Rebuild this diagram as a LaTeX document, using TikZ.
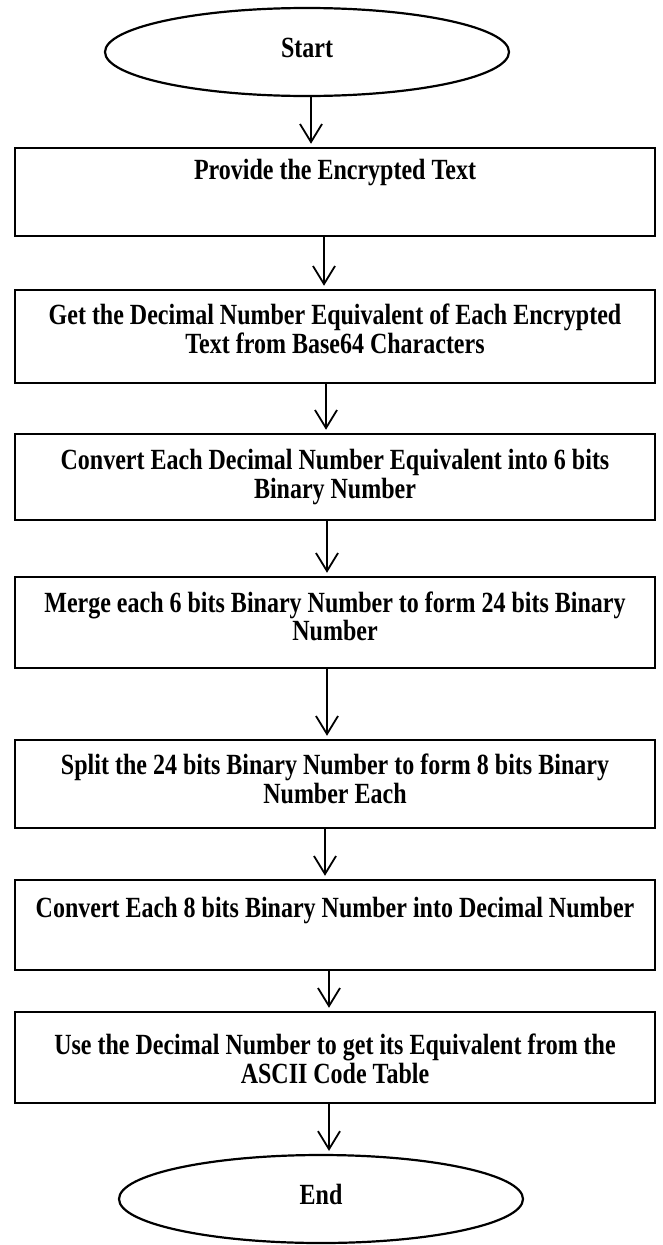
\documentclass[tikz,border=0pt]{standalone}
\usepackage{fontspec}
\setmainfont{Liberation Serif}
\usetikzlibrary{arrows.meta,shapes.geometric}
\newcommand{\vtxt}[1]{\scalebox{1}[1.22]{\begin{tabular}{@{}c@{}}#1\end{tabular}}}
\begin{document}
\begin{tikzpicture}[x=1pt,y=-1pt,
  every node/.style={font=\fontsize{24}{23}\selectfont\bfseries},
  stepbox/.style={draw, line width=2.5pt, inner sep=0pt, minimum width=640pt},
  term/.style={draw, ellipse, line width=2.2pt, inner sep=0pt, minimum width=404pt, minimum height=88pt},
  lbl/.style={inner sep=0pt},
  arr/.style={line width=1.8pt, -{Straight Barb[length=18pt,width=22pt,line width=1.8pt]}, shorten >=3pt}]
\useasboundingbox (0,0) rectangle (663,1245);
% terminals
\node[term] (s) at (307,52) {\vtxt{Start}};
\node[term] (e) at (321,1199) {\vtxt{End}};
% boxes
\node[stepbox, minimum height=88pt] (b1) at (335,192) {};
\node[stepbox, minimum height=93pt] (b2) at (335,336.5) {};
\node[stepbox, minimum height=86pt] (b3) at (335,477) {};
\node[stepbox, minimum height=91pt] (b4) at (335,622.5) {};
\node[stepbox, minimum height=88pt] (b5) at (335,784) {};
\node[stepbox, minimum height=90pt] (b6) at (335,925) {};
\node[stepbox, minimum height=91pt] (b7) at (335,1057.5) {};
% texts
\node[lbl] (t1) at (335,174) {\vtxt{Provide the Encrypted Text}};
\node[lbl] (t2) at (335,333) {\vtxt{Get the Decimal Number Equivalent of Each Encrypted\\Text from Base64 Characters}};
\node[lbl] (t3) at (335,478) {\vtxt{Convert Each Decimal Number Equivalent into 6 bits\\Binary Number}};
\node[lbl] (t4) at (335,620.5) {\vtxt{Merge each 6 bits Binary Number to form 24 bits Binary\\Number}};
\node[lbl] (t5) at (335,783) {\vtxt{Split the 24 bits Binary Number to form 8 bits Binary\\Number Each}};
\node[lbl] (t6) at (335,912) {\vtxt{Convert Each 8 bits Binary Number into Decimal Number}};
\node[lbl] (t7) at (335,1063) {\vtxt{Use the Decimal Number to get its Equivalent from the\\ASCII Code Table}};
% connectors
\draw[arr] ([xshift=4pt]s.south) -- ([xshift=-24pt]b1.north);
\draw[arr] ([xshift=-11pt]b1.south) -- ([xshift=-11pt]b2.north);
\draw[arr] ([xshift=-9pt]b2.south) -- ([xshift=-9pt]b3.north);
\draw[arr] ([xshift=-8pt]b3.south) -- ([xshift=-8pt]b4.north);
\draw[arr] ([xshift=-8pt]b4.south) -- ([xshift=-8pt]b5.north);
\draw[arr] ([xshift=-10pt]b5.south) -- ([xshift=-10pt]b6.north);
\draw[arr] ([xshift=-6pt]b6.south) -- ([xshift=-6pt]b7.north);
\draw[arr] ([xshift=-6pt]b7.south) -- ([xshift=8pt]e.north);
\end{tikzpicture}
\end{document}
